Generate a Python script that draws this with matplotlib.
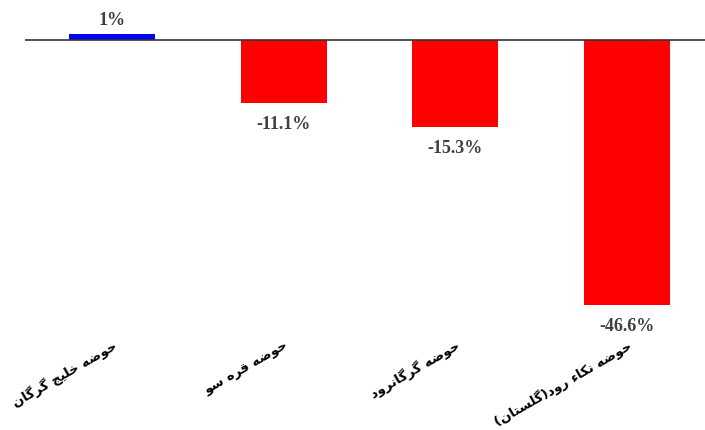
import matplotlib
matplotlib.use('Agg')
import matplotlib.pyplot as plt

# Basin names (Persian) and percent change values
basins = ['حوضه خلیج گرگان', 'حوضه قره سو', 'حوضه گرگانرود', 'حوضه نکاء رود(گلستان)']
changes = [1, -11.1, -15.3, -46.6]
value_labels = ['1%', '-11.1%', '-15.3%', '-46.6%']

# Arabic/Persian presentation forms: (isolated, final, initial, medial)
FORMS = {
    'ا': ('\uFE8D', '\uFE8E', None, None),
    'ت': ('\uFE95', '\uFE96', '\uFE97', '\uFE98'),
    'ج': ('\uFE9D', '\uFE9E', '\uFE9F', '\uFEA0'),
    'ح': ('\uFEA1', '\uFEA2', '\uFEA3', '\uFEA4'),
    'خ': ('\uFEA5', '\uFEA6', '\uFEA7', '\uFEA8'),
    'د': ('\uFEA9', '\uFEAA', None, None),
    'ر': ('\uFEAD', '\uFEAE', None, None),
    'س': ('\uFEB1', '\uFEB2', '\uFEB3', '\uFEB4'),
    'ض': ('\uFEBD', '\uFEBE', '\uFEBF', '\uFEC0'),
    'ق': ('\uFED5', '\uFED6', '\uFED7', '\uFED8'),
    'ل': ('\uFEDD', '\uFEDE', '\uFEDF', '\uFEE0'),
    'ن': ('\uFEE5', '\uFEE6', '\uFEE7', '\uFEE8'),
    'ه': ('\uFEE9', '\uFEEA', '\uFEEB', '\uFEEC'),
    'و': ('\uFEED', '\uFEEE', None, None),
    'ء': ('\uFE80', None, None, None),
    'گ': ('\uFB92', '\uFB93', '\uFB94', '\uFB95'),
    'ک': ('\uFB8E', '\uFB8F', '\uFB90', '\uFB91'),
    'ی': ('\uFBFC', '\uFBFD', '\uFBFE', '\uFBFF'),
}


def joins_left(ch):
    # letter can connect to the following letter
    return ch in FORMS and FORMS[ch][2] is not None


def joins_right(ch):
    # letter can connect to the preceding letter
    return ch in FORMS and FORMS[ch][1] is not None


def shape(text):
    """
    Builds a visual (left to right) string from logical Persian text.
    """
    out = []
    for i, ch in enumerate(text):
        if ch not in FORMS:
            out.append(ch)
            continue
        prev = text[i - 1] if i > 0 else ''
        nxt = text[i + 1] if i + 1 < len(text) else ''
        p = joins_left(prev) and joins_right(ch)
        n = joins_left(ch) and joins_right(nxt)
        iso, fin, ini, med = FORMS[ch]
        if p and n:
            out.append(med)
        elif p:
            out.append(fin)
        elif n:
            out.append(ini)
        else:
            out.append(iso)
    swap = {'(': ')', ')': '('}
    return ''.join(swap.get(c, c) for c in reversed(out))


fig = plt.figure(figsize=(7.05, 4.3), dpi=100)
ax = fig.add_axes([25 / 705, 1 - 320 / 430, 680 / 705, 310 / 430])

positions = list(range(len(basins)))
colors = ['#0000FF' if v > 0 else '#FF0000' for v in changes]
ax.bar(positions, changes, width=0.5, color=colors, zorder=2)
ax.axhline(0, color='#333333', linewidth=1.2, zorder=3)

# Value labels above / below each bar
for x, v, lab in zip(positions, changes, value_labels):
    if v > 0:
        ax.annotate(lab, (x, v), xytext=(0, 3.5), textcoords='offset points',
                    ha='center', va='bottom', fontsize=13, fontweight='bold',
                    family='Liberation Serif', color='#404040')
    else:
        ax.annotate(lab, (x, v), xytext=(0, -9), textcoords='offset points',
                    ha='center', va='top', fontsize=13, fontweight='bold',
                    family='Liberation Serif', color='#404040')

ax.set_xlim(-0.507, 3.455)
ax.set_ylim(-49.2, 5.27)
ax.set_xticks(positions)
ax.set_xticklabels([shape(b) for b in basins], rotation=30, ha='right',
                   rotation_mode='anchor', fontsize=9.5, fontweight='bold',
                   family='DejaVu Sans')
ax.tick_params(axis='x', length=0, pad=13)
ax.set_yticks([])
for s in ax.spines.values():
    s.set_visible(False)

fig.savefig('out.png', dpi=100)
